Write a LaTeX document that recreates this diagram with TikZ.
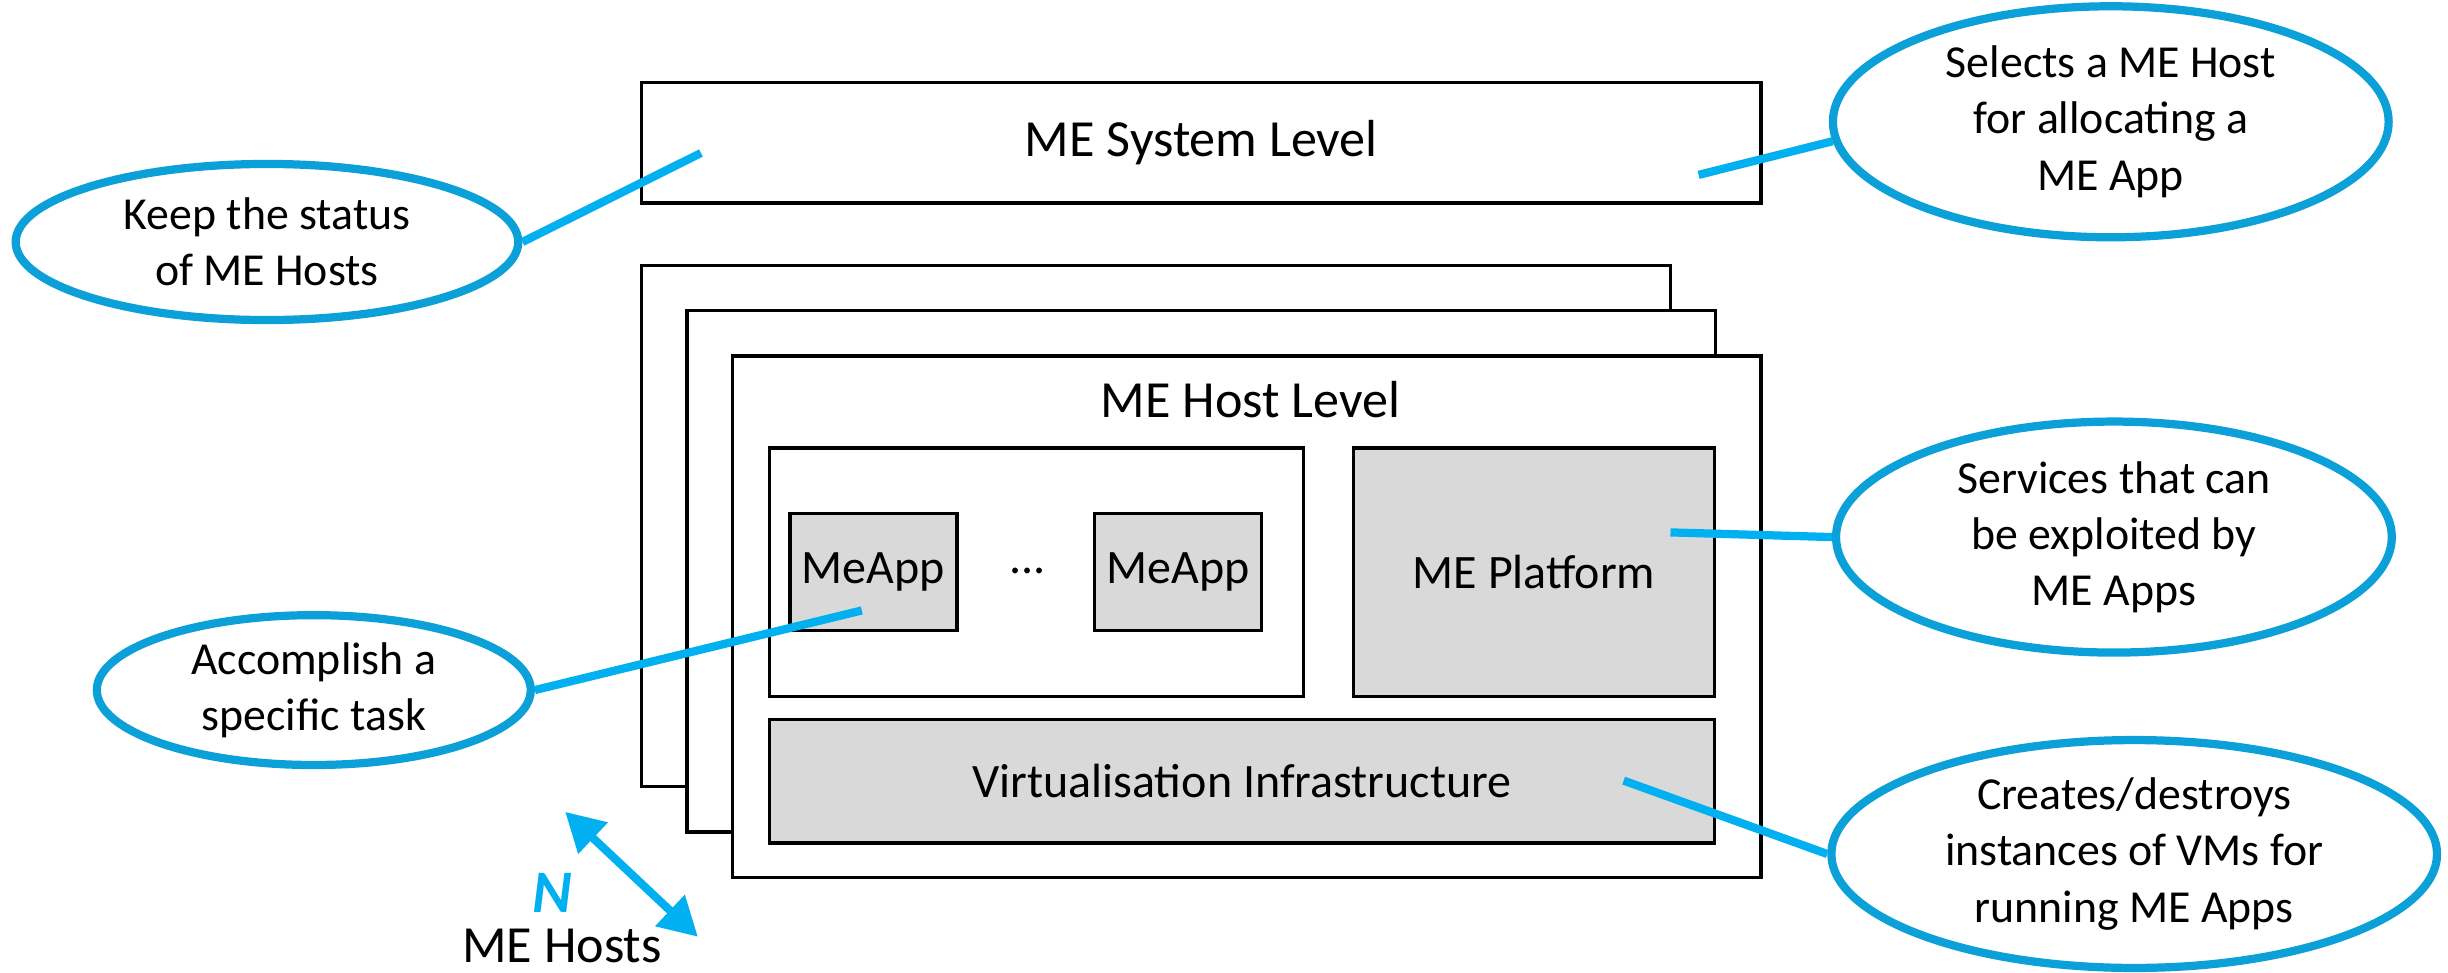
\documentclass[tikz,border=0pt]{standalone}
\usepackage{fontspec}
\setmainfont{Carlito}
\usepackage{tikz}
\usetikzlibrary{shapes.geometric,arrows.meta}
\definecolor{ringblue}{RGB}{11,160,215}
\definecolor{lineblue}{RGB}{0,176,240}
\definecolor{boxgray}{RGB}{217,217,217}
\tikzstyle{level}=[draw,black,line width=1.2pt,fill=white,inner sep=0pt]
\tikzstyle{part}=[level,fill=boxgray]
\tikzstyle{boxtext}=[font=\fontsize{17.5}{21}\selectfont]
\tikzstyle{bigtext}=[font=\fontsize{19}{23}\selectfont]
\tikzstyle{note}=[draw=ringblue,ellipse,line width=3pt,inner sep=0pt,align=center,font=\fontsize{16.7}{20.5}\selectfont]
\tikzstyle{link}=[line width=3pt,lineblue]

\begin{document}
\begin{tikzpicture}[x=0.02cm,y=-0.02cm]
	\useasboundingbox (0,0) rectangle (1568,623);
	% system level
	\node[level,bigtext,minimum width=14.34cm,minimum height=1.54cm] (sys) at (769.5,91.5) {ME System Level};
	% N stacked hosts
	\foreach \place/\name in {{(740.5,337)/host1}, {(769.5,366)/host2}, {(798.5,395)/host3}}
		\node[level,minimum width=13.18cm,minimum height=6.68cm] (\name) at \place {};
	\node[bigtext] (hostlvl) at (801,256) {ME Host Level};
	\node[level,minimum width=6.84cm,minimum height=3.18cm] (apps) at (664,366.5) {};
	\foreach \place/\name in {{(559.5,366.5)/app1}, {(754.5,366.5)/app2}}
		\node[part,boxtext,minimum width=2.14cm,minimum height=1.5cm] (\name) at \place {MeApp};
	\node[boxtext] (dots) at (658,366) {...};
	\node[part,boxtext,minimum width=4.62cm,minimum height=3.18cm] (plat) at (982.5,366.5) {ME Platform};
	\node[part,boxtext,minimum width=12.1cm,minimum height=1.58cm] (virt) at (795.5,500.5) {Virtualisation Infrastructure};

	% callouts
	\node[note,minimum width=6.44cm,minimum height=2cm] (keep) at (171,155) {Keep the status\\of ME Hosts};
	\node[note,minimum width=7.12cm,minimum height=2.96cm] (select) at (1352,78) {Selects a ME Host\\for allocating a\\ME App};
	\node[note,minimum width=7.12cm,minimum height=2.96cm] (serv) at (1354,344) {Services that can\\be exploited by\\ME Apps};
	\node[note,minimum width=5.56cm,minimum height=1.92cm] (accomp) at (201,442) {Accomplish a\\specific task};
	\node[note,minimum width=7.76cm,minimum height=2.92cm] (creat) at (1367,547) {Creates/destroys\\instances of VMs for\\running ME Apps};

	\coordinate (keepend) at (449,98);
	\coordinate (selectend) at (1088,112);
	\coordinate (servend) at (1070,341);
	\coordinate (accompend) at (552,391);
	\coordinate (creatend) at (1040,500);
	\draw[link] (keep.east) -- (keepend);
	\draw[link] (select.184) -- (selectend);
	\draw[link] (serv.west) -- (servend);
	\draw[link] (accomp.east) -- (accompend);
	\draw[link] (creat.west) -- (creatend);

	% number of hosts
	\coordinate (n1) at (362,520);
	\coordinate (n2) at (447,600);
	\draw[link,{Triangle[width=15pt,length=14pt]}-{Triangle[width=15pt,length=14pt]}] (n1) -- (n2);
	\node[lineblue,font=\fontsize{22}{26}\bfseries\itshape] (nn) at (354,572) {N};
	\node[bigtext] (nhosts) at (360,606) {ME Hosts};
\end{tikzpicture}
\end{document}
